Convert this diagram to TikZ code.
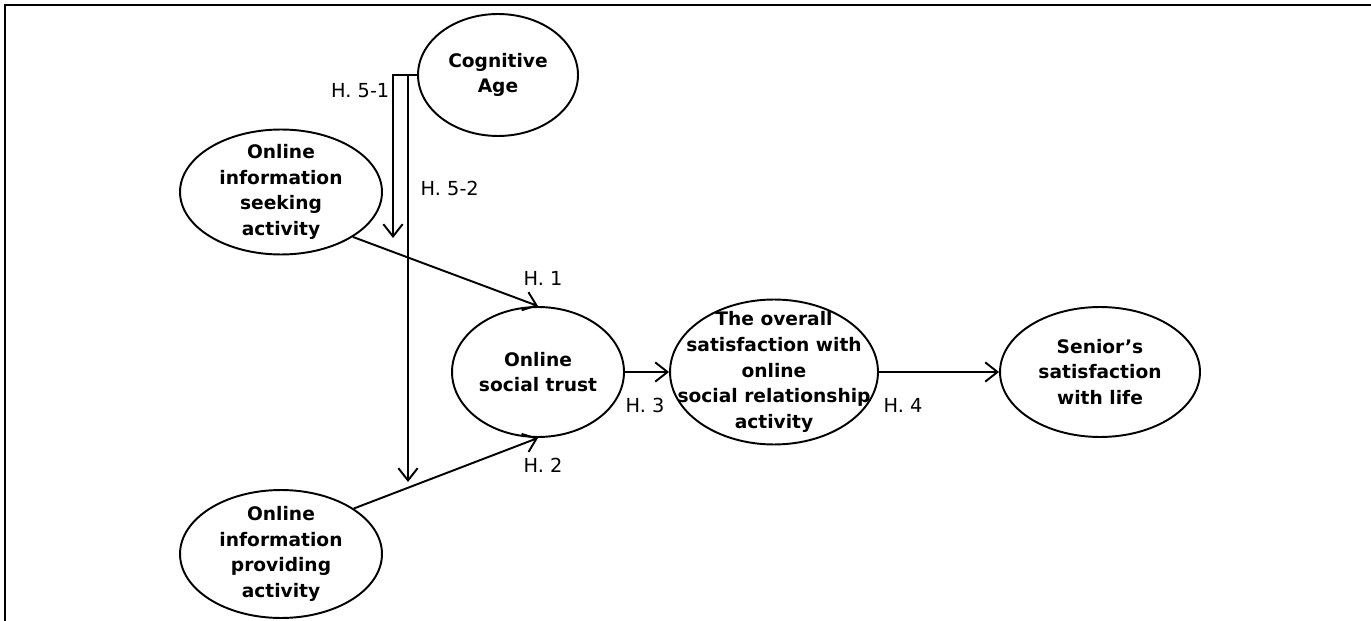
\documentclass[tikz,border=0pt]{standalone}
\usepackage{fontspec}
\setmainfont{DejaVu Sans}
\usetikzlibrary{arrows.meta,shapes.geometric}

\begin{document}
\begin{tikzpicture}[x=0.02cm, y=-0.02cm, line width=1.1pt,
    font=\fontsize{11}{14.7}\selectfont]
    \tikzset{construct/.style={ellipse,draw,inner sep=0pt},
             ctext/.style={align=center,inner sep=0pt,font=\fontsize{10.6}{14.7}\selectfont\bfseries},
             arr/.style={-{Straight Barb[length=7pt,width=11pt,line width=1.1pt]}},
             hyp/.style={inner sep=1pt}}

    \useasboundingbox (0,0) rectangle (1371,621);

    % Frame
    \draw[line width=1.3pt] (5,621) -- (5,5) -- (1371,5);

    % Constructs
    \node[construct, minimum width=3.2cm, minimum height=2.44cm,
          label={[ctext]center:Cognitive\\Age}] (cog) at (498,75) {};
    \node[construct, minimum width=4.04cm, minimum height=2.5cm,
          label={[ctext]center:Online\\information\\seeking\\activity}] (seek) at (281,192) {};
    \node[construct, minimum width=4.04cm, minimum height=2.56cm,
          label={[ctext]center:Online\\information\\providing\\activity}] (prov) at (281,554) {};
    \node[construct, minimum width=3.44cm, minimum height=2.6cm,
          label={[ctext]center:Online\\social trust}] (trust) at (538,372) {};
    \node[construct, minimum width=4.16cm, minimum height=2.9cm,
          label={[ctext]center:The overall\\satisfaction with\\online\\social relationship\\activity}] (overall) at (774,372) {};
    \node[construct, minimum width=4.0cm, minimum height=2.6cm,
          label={[ctext]center:Senior's\\satisfaction\\with life}] (life) at (1100,372) {};

    % Moderating paths from cognitive age
    \coordinate (m1) at (393,238);
    \coordinate (m2) at (408,482);
    \draw[arr] (cog.west) -| (m1);
    \draw[arr] (cog.west -| m2) -- (m2);

    % Main paths
    \draw[arr] (seek.-32) -- (trust.north);
    \draw[arr] (prov.32) -- (trust.south);
    \draw[arr] (trust.east) -- (overall.west);
    \draw[arr] (overall.east) -- (life.west);

    % Hypothesis labels
    \node[hyp, anchor=east] (h51) at (392,91) {H. 5-1};
    \node[hyp, anchor=west] (h52) at (418,188) {H. 5-2};
    \node[hyp, anchor=west] (h1) at (521,278) {H. 1};
    \node[hyp, anchor=west] (h2) at (521,465) {H. 2};
    \node[hyp, anchor=west] (h3) at (623,405) {H. 3};
    \node[hyp, anchor=west] (h4) at (881,405) {H. 4};
\end{tikzpicture}
\end{document}
